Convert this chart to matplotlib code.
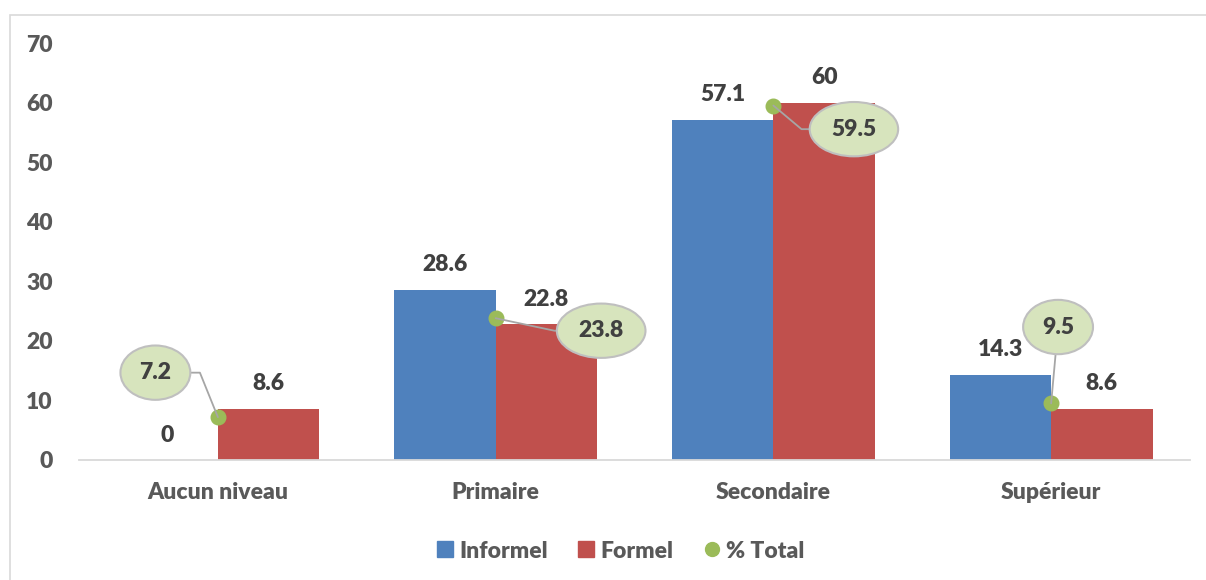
import numpy as np
import matplotlib
matplotlib.use('Agg')
import matplotlib.pyplot as plt
from matplotlib.lines import Line2D
from matplotlib.patches import Rectangle

# donnees
categories = ['Aucun niveau', 'Primaire', 'Secondaire', 'Supérieur']
informel = [0, 28.6, 57.1, 14.3]
formel = [8.6, 22.8, 60, 8.6]
total = [7.2, 23.8, 59.5, 9.5]

BLUE = '#4F81BD'
RED = '#C0504D'
GREEN = '#9BBB59'
CALLOUT = '#D7E4BD'
TXT = '#404040'
AXTXT = '#595959'
FS = 16.5
WT = 'heavy'

# bulles : decalage (points) par rapport au point, et angle du trait
callout_offsets = [(-45, 32), (76, -9), (58, -17), (5, 55)]
leader_angles = [112, -12, -40, None]

plt.rcParams['font.family'] = ['Lato', 'DejaVu Sans']
plt.rcParams['font.weight'] = WT

fig = plt.figure(figsize=(12.06, 5.8), dpi=100)
ax = fig.add_axes([79 / 1206, 1 - 460 / 580, (1190 - 79) / 1206, (460 - 43) / 580])

# cadre gris autour du graphique
fig.patches.append(Rectangle((10 / 1206, -0.1), 1.2, 1 - 15 / 580 + 0.1,
                             transform=fig.transFigure, fill=False,
                             edgecolor='#D9D9D9', lw=1.2))

x = np.arange(len(categories))
w = 0.365
ax.bar(x - w / 2, informel, w, color=BLUE, zorder=2)
ax.bar(x + w / 2, formel, w, color=RED, zorder=2)

for xi, v in zip(x - w / 2, informel):
    ax.annotate(f'{v:g}', (xi, v), xytext=(0, 18), textcoords='offset points',
                ha='center', va='center', fontsize=FS, fontweight=WT, color=TXT)
for xi, v in zip(x + w / 2, formel):
    ax.annotate(f'{v:g}', (xi, v), xytext=(0, 18), textcoords='offset points',
                ha='center', va='center', fontsize=FS, fontweight=WT, color=TXT)

ax.plot(x, total, 'o', color=GREEN, markersize=10.5, zorder=4, linestyle='none')

for xi, v, off, ang in zip(x, total, callout_offsets, leader_angles):
    if ang is None:
        cs = 'arc3'
    else:
        cs = f'angle,angleA=0,angleB={ang},rad=0'
    ax.annotate(f'{v:g}', (xi, v), xytext=off, textcoords='offset points',
                ha='center', va='center', fontsize=FS, fontweight=WT, color=TXT,
                bbox=dict(boxstyle='ellipse,pad=0.38', fc=CALLOUT, ec='#BFBFBF', lw=1.5),
                arrowprops=dict(arrowstyle='-', color='#A6A6A6', lw=1.3,
                                connectionstyle=cs, shrinkA=0, shrinkB=0),
                zorder=5)

ax.set_xlim(-0.5, 3.5)
ax.set_ylim(0, 70)
ax.set_yticks(range(0, 80, 10))
ax.set_xticks(x)
ax.set_xticklabels(categories)
ax.tick_params(axis='y', length=0, pad=19, labelsize=FS, labelcolor=AXTXT)
ax.tick_params(axis='x', length=0, pad=16, labelsize=FS, labelcolor=AXTXT)
for s in ['top', 'right', 'left']:
    ax.spines[s].set_visible(False)
ax.spines['bottom'].set_color('#D9D9D9')
ax.spines['bottom'].set_linewidth(1.3)

handles = [
    Line2D([], [], marker='s', color=BLUE, linestyle='none', markersize=11),
    Line2D([], [], marker='s', color=RED, linestyle='none', markersize=11),
    Line2D([], [], marker='o', color=GREEN, linestyle='none', markersize=10),
]
leg = fig.legend(handles, ['Informel', 'Formel', '% Total'], loc='center',
                 bbox_to_anchor=(619 / 1206, 29 / 580), ncol=3, frameon=False,
                 fontsize=FS, handletextpad=0.1, columnspacing=1.2, handlelength=1.0)
for t in leg.get_texts():
    t.set_color(AXTXT)
    t.set_fontweight(WT)

fig.savefig('out.png', dpi=100)
